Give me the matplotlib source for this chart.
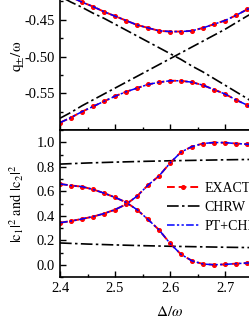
import numpy as np
import matplotlib
matplotlib.use('Agg')
import matplotlib.pyplot as plt
from matplotlib.ticker import MultipleLocator, FixedLocator, FormatStrFormatter
from matplotlib.lines import Line2D

plt.rcParams['font.family'] = ['Liberation Serif', 'DejaVu Serif']
plt.rcParams['mathtext.fontset'] = 'stix'

# detuning grid
delta = [2.40, 2.42, 2.44, 2.46, 2.48, 2.50, 2.52, 2.54, 2.56, 2.58,
         2.60, 2.62, 2.64, 2.66, 2.68, 2.70, 2.72, 2.74, 2.76]

# top panel: q_+/omega and q_-/omega
chrw_a = [-0.418, -0.426, -0.433, -0.441, -0.448, -0.456, -0.464, -0.472, -0.480, -0.488,
          -0.496, -0.504, -0.513, -0.521, -0.530, -0.539, -0.548, -0.557, -0.567]
chrw_b = [-0.584, -0.576, -0.567, -0.559, -0.551, -0.543, -0.535, -0.527, -0.519, -0.511,
          -0.503, -0.495, -0.487, -0.479, -0.471, -0.463, -0.454, -0.445, -0.437]
exact_up = [-0.412, -0.419, -0.426, -0.432, -0.439, -0.445, -0.451, -0.457, -0.461, -0.465,
            -0.466, -0.466, -0.465, -0.461, -0.456, -0.451, -0.444, -0.436, -0.429]
exact_lo = [-0.590, -0.583, -0.575, -0.568, -0.561, -0.554, -0.548, -0.543, -0.538, -0.535,
            -0.533, -0.533, -0.535, -0.539, -0.545, -0.551, -0.559, -0.566, -0.575]

# bottom panel: |c1|^2 and |c2|^2
exact_c1 = [0.343, 0.357, 0.374, 0.393, 0.418, 0.450, 0.493, 0.560, 0.650, 0.725,
            0.830, 0.920, 0.965, 0.990, 0.998, 0.997, 0.990, 0.984, 0.978]
exact_c2 = [0.660, 0.647, 0.638, 0.615, 0.585, 0.550, 0.510, 0.450, 0.370, 0.285,
            0.175, 0.085, 0.032, 0.006, 0.000, 0.003, 0.009, 0.014, 0.018]
chrw_d = [2.40, 2.45, 2.50, 2.55, 2.60, 2.65, 2.70, 2.75]
chrw_c1 = [0.822, 0.831, 0.838, 0.844, 0.849, 0.853, 0.857, 0.860]
chrw_c2 = [0.178, 0.169, 0.162, 0.156, 0.151, 0.147, 0.143, 0.140]

ls_exact = (0, (4, 2))
ls_chrw = (0, (7, 2, 1.5, 2))
ls_pt = (0, (5, 1.5, 1.5, 1.5, 1.5, 1.5))

fig = plt.figure(figsize=(2.49, 3.23), dpi=100)
ax1 = fig.add_axes([0.241, 0.5975, 0.8835, 0.455])
ax2 = fig.add_axes([0.241, 0.1424, 0.8835, 0.455])


def draw(ax, curves_exact, curves_chrw):
    for d, y in curves_chrw:
        ax.plot(d, y, color='black', ls=ls_chrw, lw=1.2)
    for y in curves_exact:
        ax.plot(delta, y, color='red', ls=ls_exact, lw=1.4, marker='o', ms=2.6)
        ax.plot(delta, y, color='blue', ls=ls_pt, lw=1.1)


draw(ax1, [exact_up, exact_lo], [(delta, chrw_a), (delta, chrw_b)])
draw(ax2, [exact_c1, exact_c2], [(chrw_d, chrw_c1), (chrw_d, chrw_c2)])

ax1.set_ylim(-0.6, -0.4)
ax1.yaxis.set_major_locator(FixedLocator([-0.55, -0.50, -0.45]))
ax1.yaxis.set_minor_locator(MultipleLocator(0.025))
ax1.yaxis.set_major_formatter(FormatStrFormatter('%.2f'))
ax1.tick_params(labelbottom=False)
ax1.set_ylabel(r'$\mathrm{q_{\pm}/\omega}$', fontsize=11)

ax2.set_ylim(-0.1, 1.1)
ax2.yaxis.set_major_locator(FixedLocator([0.0, 0.2, 0.4, 0.6, 0.8, 1.0]))
ax2.yaxis.set_minor_locator(MultipleLocator(0.1))
ax2.yaxis.set_major_formatter(FormatStrFormatter('%.1f'))
ax2.xaxis.set_major_formatter(FormatStrFormatter('%.1f'))
ax2.set_ylabel(r'$\mathrm{|c_1|^2\ and\ |c_2|^2}$', fontsize=10.5)
ax2.set_xlabel(r'$\Delta/\omega$', fontsize=11, labelpad=7.5)

for ax in (ax1, ax2):
    ax.set_xlim(2.4, 2.8)
    ax.xaxis.set_major_locator(MultipleLocator(0.1))
    ax.xaxis.set_minor_locator(MultipleLocator(0.05))
    ax.tick_params(which='both', direction='in', labelsize=10.5, width=1.0)
    ax.tick_params(which='major', length=4)
    ax.tick_params(which='minor', length=2)
    for s in ax.spines.values():
        s.set_linewidth(1.2)
    ax.yaxis.set_label_coords(-0.155, 0.5)

handles = [
    Line2D([], [], color='red', ls=ls_exact, lw=1.4, marker='o', ms=2.6),
    Line2D([], [], color='black', ls=ls_chrw, lw=1.2),
    Line2D([], [], color='blue', ls=ls_pt, lw=1.1),
]
ax2.legend(handles, ['EXACT', 'CHRW', 'PT+CHRW'], loc='upper left',
           bbox_to_anchor=(0.485, 0.645), frameon=False, fontsize=10,
           handlelength=2.4, handletextpad=0.3, labelspacing=0.42,
           borderpad=0, borderaxespad=0)

fig.savefig('out.png', dpi=100)
